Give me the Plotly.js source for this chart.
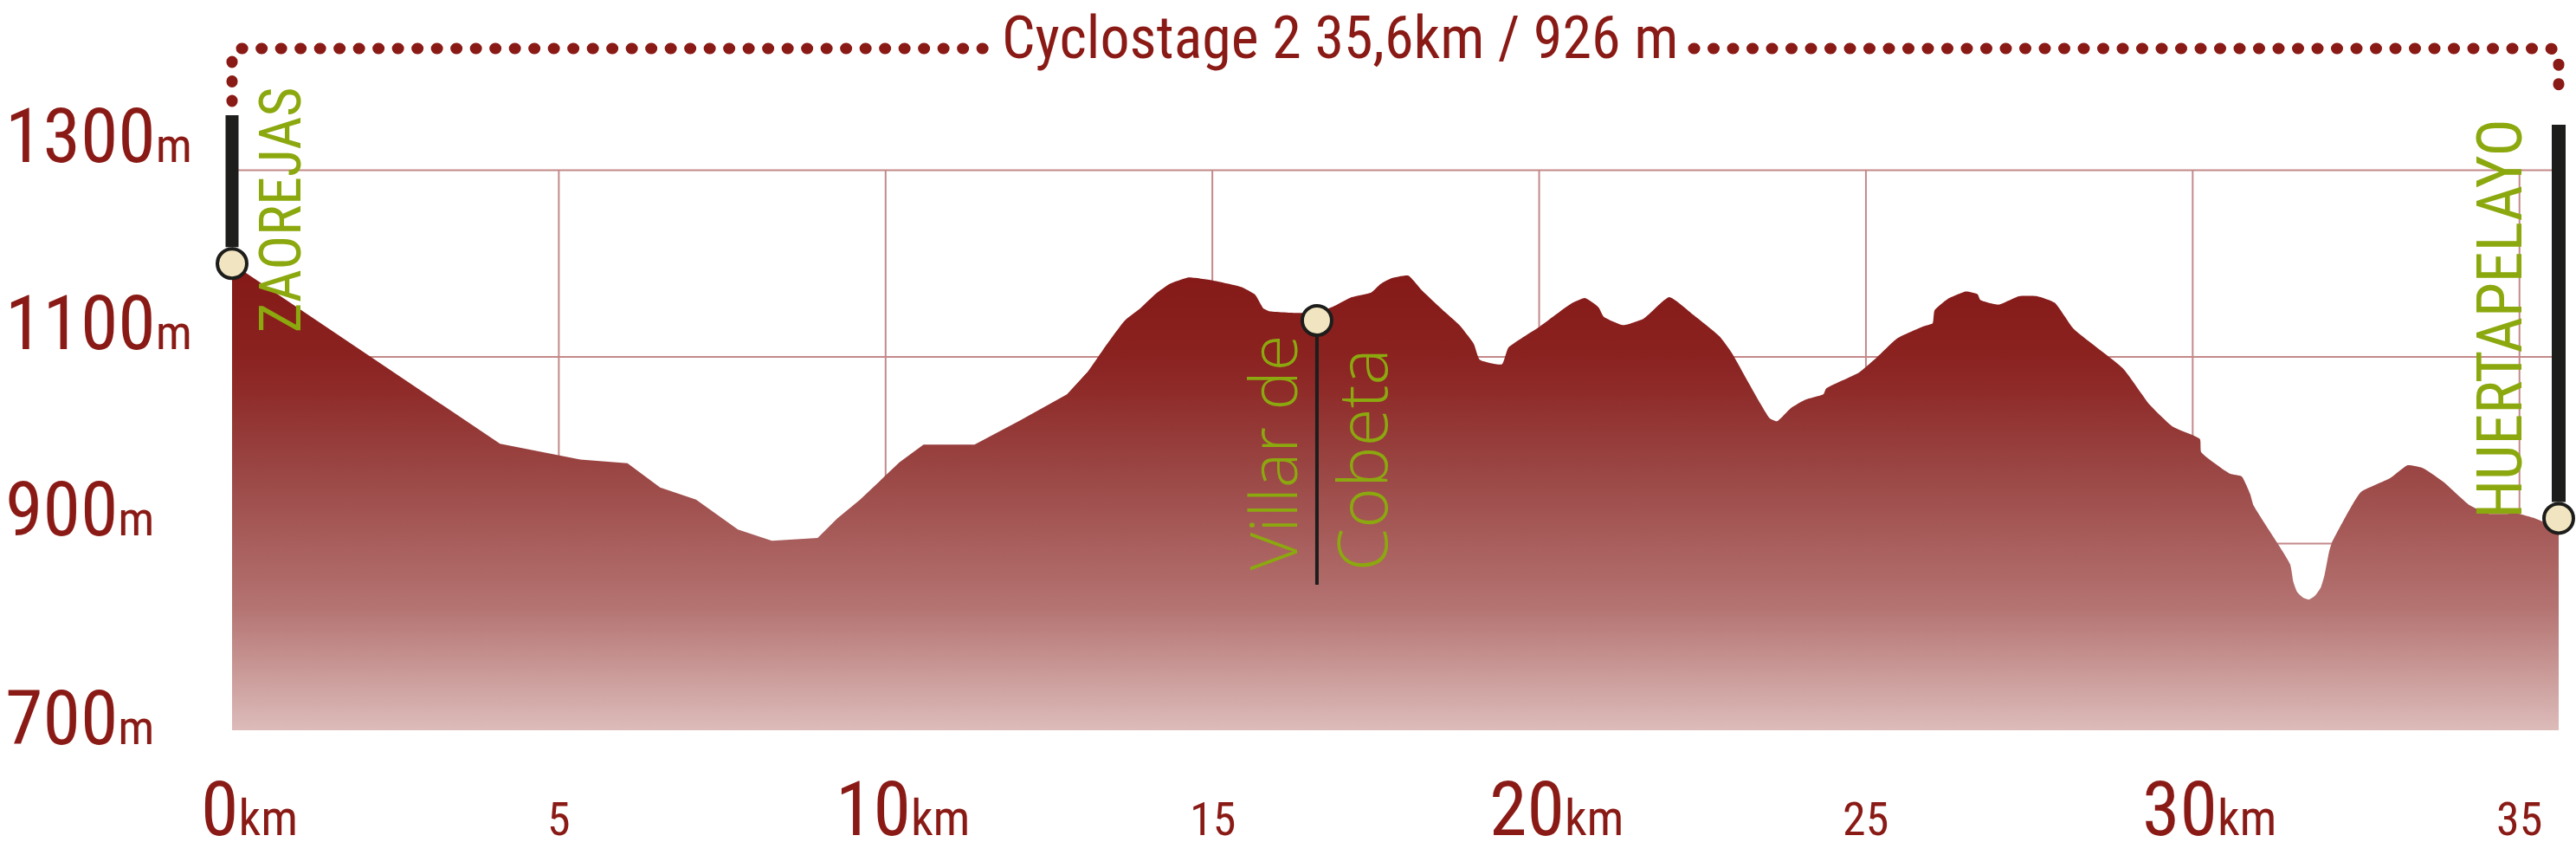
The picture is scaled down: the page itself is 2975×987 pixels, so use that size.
<!DOCTYPE html>
<html>
<head>
<meta charset="utf-8">
<script src="https://cdn.plot.ly/plotly-3.0.1.min.js"></script>
<style>
  html, body { margin: 0; padding: 0; background: #ffffff; }
  #chart { width: 2975px; height: 987px; }
</style>
</head>
<body>
<div id="chart"></div>
<script>
// ---------- data ----------
const distanceKm = [0, 2.0, 4.1, 5.33, 6.05, 6.55, 7.1, 7.74, 8.26, 8.96, 9.26, 9.61, 9.99, 10.21, 10.58, 11.36,
  12.06, 12.78, 13.08, 13.33, 13.66, 13.88, 14.14, 14.34, 14.62, 15.0, 15.44, 15.65, 15.78, 15.87, 16.34, 16.6,
  16.88, 17.13, 17.43, 17.57, 17.73, 18.0, 18.21, 18.56, 18.78, 19.0, 19.09, 19.43, 19.53, 20.0, 20.49, 20.7,
  20.91, 20.99, 21.29, 21.6, 21.99, 22.36, 22.76, 22.95, 23.53, 23.64, 23.85, 24.07, 24.35, 24.39, 24.89, 25.16,
  25.48, 25.89, 26.02, 26.05, 26.25, 26.53, 26.71, 26.75, 27.03, 27.34, 27.62, 27.89, 28.18, 28.93, 29.34, 29.7,
  30.11, 30.13, 30.57, 30.75, 30.88, 30.93, 31.07, 31.49, 31.54, 31.6, 31.69, 31.78, 31.87, 31.96, 32.02, 32.09,
  32.13, 32.31, 32.57, 33.02, 33.29, 33.52, 33.84, 34.24, 34.52, 34.97, 35.24, 35.6];
const elevationM = [1200, 1106, 1007, 990, 986, 960, 947, 915, 903, 906, 927, 947, 972, 987, 1006, 1006,
  1032, 1060, 1083, 1108, 1139, 1151, 1168, 1178, 1185, 1182, 1175, 1167, 1152, 1149, 1147, 1147,
  1155, 1164, 1169, 1178, 1184, 1187, 1171, 1148, 1134, 1114, 1097, 1092, 1110, 1132, 1157, 1163,
  1153, 1143, 1134, 1141, 1164, 1145, 1122, 1104, 1034, 1031, 1045, 1054, 1060, 1066, 1083, 1099,
  1120, 1133, 1136, 1150, 1162, 1170, 1167, 1161, 1156, 1165, 1165, 1158, 1130, 1088, 1049, 1025,
  1012, 998, 975, 972, 953, 941, 925, 878, 859, 848, 842, 840, 844, 853, 867, 892,
  901, 925, 955, 970, 984, 981, 966, 941, 932, 932, 927, 916];

const townNames = ['ZAOREJAS', 'Villar de', 'Cobeta', 'HUERTAPELAYO'];
const townKm = [0, 16.6, 35.6];
const townElev = [1200, 1139, 927];

const xTickVals = [0, 5, 10, 15, 20, 25, 30, 35];
const xTickText = ['0', '5', '10', '15', '20', '25', '30', '35'];
const yTickVals = [700, 900, 1100, 1300];
const yTickText = ['700', '900', '1100', '1300'];
const titleText = 'Cyclostage 2 35,6km / 926 m';

// ---------- geometry ----------
const W = 2975, H = 987;
const ML = 268, MR = 20, MT = 0, MB = 144;
const PW = W - ML - MR, PH = H - MT - MB;
const XR = [0, 35.6];
const YR = [700, 700 + PH / 1.0775];
const px = km => ML + (km - XR[0]) / (XR[1] - XR[0]) * PW;
const py = m => MT + (YR[1] - m) / (YR[1] - YR[0]) * PH;
const paperX = p => (p - ML) / PW;
const paperY = p => 1 - (p - MT) / PH;

const DARK = '#8a1a15';
const GREEN = '#8ca80f';
const BAR = '#1d1d1b';
const GRID = '#c4898a';
const COND = '"Liberation Sans Narrow", "Roboto Condensed", "DejaVu Sans Condensed", "Liberation Sans", sans-serif';
const THIN = '"Open Sans", Lato, sans-serif';

// ---------- traces ----------
const grad = {
  type: 'vertical', start: 700, stop: 1190,
  colorscale: [[0, '#dcbcba'], [0.27, '#b47371'], [0.57, '#9a4644'], [0.75, '#8e2a28'], [0.82, '#8a2220'], [1, '#851a18']]
};
// the profile is drawn in two overlapping pieces: an angular western part and a rounded eastern part
const split = distanceKm.indexOf(13.08);
const profileWest = {
  x: distanceKm.slice(0, split + 1), y: elevationM.slice(0, split + 1), type: 'scatter', mode: 'lines',
  line: {width: 0, color: '#851a18'}, fill: 'tozeroy', fillgradient: grad, hoverinfo: 'skip', showlegend: false
};
const profileEast = {
  x: distanceKm.slice(split - 1), y: elevationM.slice(split - 1), type: 'scatter', mode: 'lines',
  line: {width: 0, color: '#851a18', shape: 'spline', smoothing: 0.45}, fill: 'tozeroy', fillgradient: grad,
  hoverinfo: 'skip', showlegend: false
};
const towns = {
  x: townKm, y: townElev, type: 'scatter', mode: 'markers', cliponaxis: false,
  marker: {size: 34, color: '#f1e4c0', line: {width: 4, color: BAR}},
  hoverinfo: 'skip', showlegend: false
};

// ---------- shapes ----------
const shapes = [];
yTickVals.forEach(v => shapes.push({type: 'line', xref: 'x', yref: 'y', x0: XR[0], x1: XR[1], y0: v, y1: v,
  layer: 'below', line: {color: GRID, width: 2}}));
xTickVals.concat([XR[1]]).forEach(v => shapes.push({type: 'line', xref: 'x', yref: 'y', x0: v, x1: v, y0: 700, y1: 1300,
  layer: 'below', line: {color: GRID, width: 2}}));

const R = 19; // marker outer radius in px
function post(km, topPix, botPix, w) {
  shapes.push({type: 'line', xref: 'paper', yref: 'paper', x0: paperX(px(km)), x1: paperX(px(km)),
    y0: paperY(topPix), y1: paperY(botPix), layer: 'above', line: {color: BAR, width: w}});
}
post(townKm[0], 133, py(townElev[0]) - R, 15);
post(townKm[2], 144, py(townElev[2]) - R, 16);
post(townKm[1], py(townElev[1]) + R, 675, 4);

// dotted frame
function P(xp, yp) { return paperX(xp).toFixed(5) + ',' + paperY(yp).toFixed(5); }
const lx = px(townKm[0]), rx = px(townKm[2]);
const dotY = 56;
const leftPath = 'M' + P(lx, 117) + ' L' + P(lx, dotY + 12) + ' Q' + P(lx, dotY) + ' ' + P(lx + 12, dotY) + ' L' + P(1146, dotY);
const rightPath = 'M' + P(1956, dotY) + ' L' + P(rx - 12, dotY) + ' Q' + P(rx, dotY) + ' ' + P(rx, dotY + 12) + ' L' + P(rx, 114);
[leftPath, rightPath].forEach(p => shapes.push({type: 'path', xref: 'paper', yref: 'paper', path: p, layer: 'above',
  line: {color: DARK, width: 13, dash: '1px,21.5px'}}));

// ---------- annotations ----------
const ann = [];
const DESC = 0.212;
// title
ann.push({text: titleText, xref: 'paper', yref: 'paper', x: paperX(1547), y: 1, xanchor: 'center', yanchor: 'top',
  yshift: -2, showarrow: false, font: {family: COND, size: 68, color: DARK}});
// y labels
yTickVals.forEach((v, i) => {
  const base = (i === 0) ? py(v) + 19 : py(v) - 6;
  ann.push({text: yTickText[i] + '<span style="font-size:56px">m</span>', xref: 'paper', yref: 'y',
    x: paperX(4), y: v, xanchor: 'left', yanchor: 'bottom', yshift: py(v) - (base + DESC * 88 + 1),
    showarrow: false, font: {family: COND, size: 88, color: DARK}});
});
// x labels
xTickVals.forEach((v, i) => {
  const big = v % 10 === 0;
  const size = big ? 88 : 54;
  const base = 967;
  ann.push({text: xTickText[i] + (big ? '<span style="font-size:57px">km</span>' : ''), xref: 'x', yref: 'paper',
    x: v, y: 0, xanchor: 'center', yanchor: 'bottom', xshift: big ? 20 : 0,
    yshift: (MT + PH) - (base + DESC * size + 1), showarrow: false, font: {family: COND, size: size, color: DARK}});
});
// town labels (rotated)
ann.push({text: townNames[0], xref: 'paper', yref: 'paper', x: paperX(347 - 0.3465 * 66), y: paperY(386),
  xanchor: 'center', yanchor: 'bottom', textangle: -90, showarrow: false, font: {family: COND, size: 66, color: GREEN}});
ann.push({text: townNames[3], xref: 'paper', yref: 'paper', x: paperX(2912 - 0.3465 * 72), y: paperY(601),
  xanchor: 'center', yanchor: 'bottom', textangle: -90, showarrow: false, font: {family: COND, size: 72, color: GREEN}});
ann.push({text: townNames[1], xref: 'paper', yref: 'paper', x: paperX(1497 - 0.388 * 76), y: paperY(661),
  xanchor: 'center', yanchor: 'bottom', textangle: -90, showarrow: false, font: {family: THIN, size: 76, weight: 300, color: GREEN}});
ann.push({text: townNames[2], xref: 'paper', yref: 'paper', x: paperX(1602 - 0.388 * 80), y: paperY(661),
  xanchor: 'center', yanchor: 'bottom', textangle: -90, showarrow: false, font: {family: THIN, size: 80, weight: 300, color: GREEN}});

const layout = {
  width: W, height: H,
  margin: {l: ML, r: MR, t: MT, b: MB, pad: 0},
  paper_bgcolor: '#ffffff', plot_bgcolor: 'rgba(0,0,0,0)',
  showlegend: false,
  xaxis: {range: XR, showgrid: false, zeroline: false, showline: false, showticklabels: false, ticks: '', fixedrange: true},
  yaxis: {range: YR, showgrid: false, zeroline: false, showline: false, showticklabels: false, ticks: '', fixedrange: true},
  shapes: shapes, annotations: ann
};

Plotly.newPlot('chart', [profileWest, profileEast, towns], layout, {staticPlot: true}).then(() => {
  document.querySelectorAll('.shapelayer path').forEach(el => {
    const d = el.style.strokeDasharray || el.getAttribute('stroke-dasharray');
    if (d && d.indexOf('21.5') >= 0) el.style.strokeLinecap = 'round';
  });
});
</script>
</body>
</html>
